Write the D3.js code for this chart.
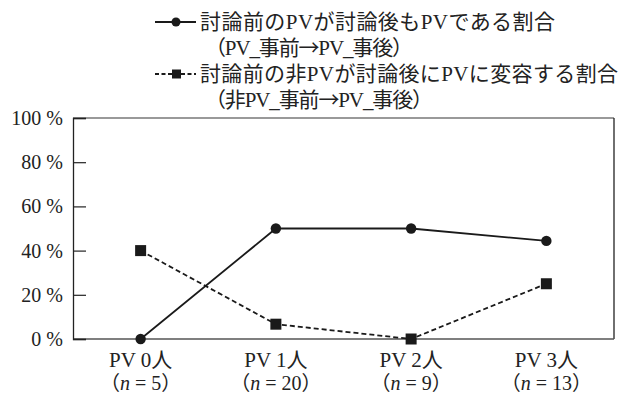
<!DOCTYPE html>
<html><head><meta charset="utf-8">
<script src="https://cdn.jsdelivr.net/npm/d3@7"></script>
<style>body{margin:0;background:#fff}svg{display:block}</style>
</head><body><svg id="c" width="621" height="396"></svg>
<script>
const categories = ["PV 0人","PV 1人","PV 2人","PV 3人"];
const nValues = [5, 20, 9, 13];
const pvStay = [0, 50, 50, 44.4];
const nonPvToPv = [40, 6.7, 0, 25];
const yTicks = [0, 20, 40, 60, 80, 100];
const legendLabels = [
  ["討論前のPVが討論後もPVである割合", "（PV_事前→PV_事後）"],
  ["討論前の非PVが討論後にPVに変容する割合", "（非PV_事前→PV_事後）"]
];

const FONT = "'Liberation Serif','Noto Sans CJK JP',serif";
const CJK = "'Noto Sans CJK JP',sans-serif";
const svg = d3.select("#c");
const m = {l:73, r:614, t:118, b:339};
const x = d3.scaleBand().domain(categories).range([m.l, m.r]);
const y = d3.scaleLinear().domain([0,100]).range([m.b, m.t]);
const cx = d => x(d) + x.bandwidth()/2;

// frame
svg.append("line").attr("x1",m.l).attr("x2",m.r).attr("y1",m.t).attr("y2",m.t).attr("stroke","#777").attr("stroke-width",1.5);
svg.append("line").attr("x1",m.r).attr("x2",m.r).attr("y1",m.t).attr("y2",m.b).attr("stroke","#222").attr("stroke-width",1.3);
svg.append("line").attr("x1",m.l).attr("x2",m.r).attr("y1",m.b).attr("y2",m.b).attr("stroke","#555").attr("stroke-width",1.3);

// y axis
const ya = d3.axisLeft(y).tickValues(yTicks).tickSize(-13).tickPadding(10).tickFormat(d => d + " %");
const gy = svg.append("g").attr("transform",`translate(${m.l},0)`).call(ya);
gy.select(".domain").attr("stroke","#222").attr("stroke-width",1.3);
gy.selectAll(".tick line").attr("stroke","#222").attr("stroke-width",1.2);
gy.selectAll(".tick text").attr("x",-10).attr("font-family",FONT).attr("font-size",20).attr("fill","#222");

// x labels
const xg = svg.append("g");
categories.forEach((c,i) => {
  xg.append("text").attr("x",cx(c)).attr("y",367).attr("text-anchor","middle")
    .attr("font-family",FONT).attr("font-size",21).attr("fill","#222").text(c);
  const t = xg.append("text").attr("x",cx(c)).attr("y",390).attr("text-anchor","middle")
    .attr("font-family",FONT).attr("font-size",20).attr("fill","#222");
  t.append("tspan").attr("font-family",CJK).text("（");
  t.append("tspan").attr("font-style","italic").text("n");
  t.append("tspan").text(" = " + nValues[i]);
  t.append("tspan").attr("font-family",CJK).text("）");
});

// lines
const line = d3.line().x((d,i)=>cx(categories[i])).y(d=>y(d));
svg.append("path").datum(pvStay).attr("d",line).attr("fill","none").attr("stroke","#1a1a1a").attr("stroke-width",1.8);
svg.append("path").datum(nonPvToPv).attr("d",line).attr("fill","none").attr("stroke","#1a1a1a").attr("stroke-width",1.8).attr("stroke-dasharray","5,3");
svg.selectAll(".dot").data(pvStay).enter().append("circle")
  .attr("cx",(d,i)=>cx(categories[i])).attr("cy",d=>y(d)).attr("r",5.2).attr("fill","#1a1a1a");
svg.selectAll(".sq").data(nonPvToPv).enter().append("rect")
  .attr("x",(d,i)=>cx(categories[i])-5.5).attr("y",d=>y(d)-5.5).attr("width",11).attr("height",11).attr("fill","#1a1a1a");

// legend
const lg = svg.append("g");
const ly = [22, 74];
const lw1 = [355, 418], lw2 = [208, 228];
ly.forEach((yy,k) => {
  lg.append("line").attr("x1",155).attr("x2",196).attr("y1",yy).attr("y2",yy)
    .attr("stroke","#1a1a1a").attr("stroke-width",1.8).attr("stroke-dasharray", k ? "4,2.5" : null);
  if (k===0) lg.append("circle").attr("cx",176).attr("cy",yy).attr("r",4.5).attr("fill","#1a1a1a");
  else lg.append("rect").attr("x",172).attr("y",yy-4.5).attr("width",9).attr("height",9).attr("fill","#1a1a1a");
  lg.append("text").attr("x",200).attr("y",yy+7).attr("font-family",FONT).attr("font-size",21).attr("fill","#222")
    .attr("textLength",lw1[k]).attr("lengthAdjust","spacing").text(legendLabels[k][0]);
  const parts = legendLabels[k][1].split("→");
  const t2 = lg.append("text").attr("x",205).attr("y",yy+33).attr("font-family",FONT).attr("font-size",21).attr("fill","#222")
    .attr("textLength",lw2[k]).attr("lengthAdjust","spacing");
  t2.append("tspan").text(parts[0]);
  t2.append("tspan").attr("font-family",CJK).text("→");
  t2.append("tspan").text(parts[1]);
});
</script></body></html>
